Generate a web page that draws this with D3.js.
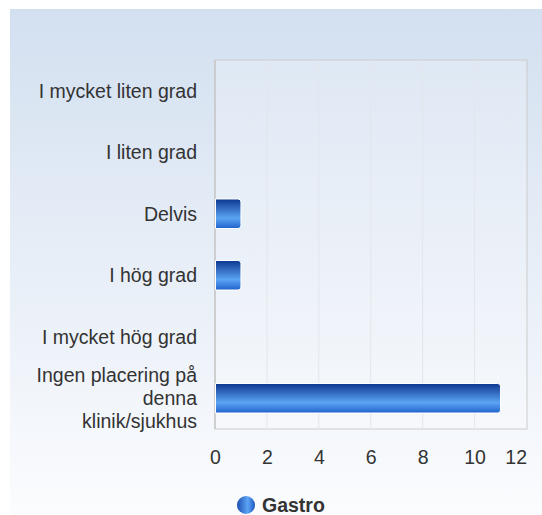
<!DOCTYPE html>
<html>
<head>
<meta charset="utf-8">
<script src="https://cdn.jsdelivr.net/npm/d3@7"></script>
<style>
  body { margin: 0; background: #fff; }
  text { font-family: "Liberation Sans", Arial, sans-serif; }
</style>
</head>
<body>
<div id="chart"></div>
<script>
// data
let categories = [
  ["I mycket liten grad"],
  ["I liten grad"],
  ["Delvis"],
  ["I hög grad"],
  ["I mycket hög grad"],
  ["Ingen placering på", "denna", "klinik/sjukhus"]
];
let values = [0, 0, 1, 1, 0, 11];
let xTicks = [0, 2, 4, 6, 8, 10, 12];
let seriesName = "Gastro";

let svgWidth = 542;
let svgHeight = 515;
let margin = { top: 60, right: 15, bottom: 86, left: 215 };
let chartWidth = svgWidth - margin.left - margin.right;
let chartHeight = svgHeight - margin.top - margin.bottom;
let fontSize = 19.5;

let svg = d3.select("#chart")
  .append("svg")
  .attr("width", svgWidth)
  .attr("height", svgHeight);

let defs = svg.append("defs");

let bg = defs.append("linearGradient")
  .attr("id", "bg").attr("x1", 0).attr("y1", 0).attr("x2", 0).attr("y2", 1);
bg.append("stop").attr("offset", "0%").attr("stop-color", "#d3e0f0");
bg.append("stop").attr("offset", "100%").attr("stop-color", "#fbfcfe");

let barGrad = defs.append("linearGradient")
  .attr("id", "barGrad").attr("x1", 0).attr("y1", 0).attr("x2", 0).attr("y2", 1);
barGrad.append("stop").attr("offset", "0%").attr("stop-color", "#0b3690");
barGrad.append("stop").attr("offset", "65%").attr("stop-color", "#5ca4f4");
barGrad.append("stop").attr("offset", "100%").attr("stop-color", "#1f62cc");

let dotGrad = defs.append("linearGradient")
  .attr("id", "dotGrad").attr("x1", 0).attr("y1", 0).attr("x2", 1).attr("y2", 0);
dotGrad.append("stop").attr("offset", "0%").attr("stop-color", "#1d4fb0");
dotGrad.append("stop").attr("offset", "60%").attr("stop-color", "#5ca4f4");
dotGrad.append("stop").attr("offset", "100%").attr("stop-color", "#1d55c0");

// background
svg.append("rect")
  .attr("x", 10).attr("y", 9)
  .attr("width", svgWidth - 10).attr("height", svgHeight - 9)
  .attr("fill", "url(#bg)");

let chartGroup = svg.append("g")
  .attr("transform", `translate(${margin.left}, ${margin.top})`);

let xScale = d3.scaleLinear().domain([0, 12]).range([0, chartWidth - 0.5]);
let yScale = d3.scaleBand()
  .domain(categories.map((d, i) => i))
  .range([0, chartHeight])
  .paddingInner(0.52).paddingOuter(0.26);

// plot area
chartGroup.append("rect")
  .attr("x", 0).attr("y", 0)
  .attr("width", chartWidth).attr("height", chartHeight)
  .attr("fill", "#ffffff").attr("fill-opacity", 0.2)
  .attr("stroke", "#cccccc").attr("stroke-width", 1);

// grid
chartGroup.selectAll(".grid")
  .data(xTicks.slice(1, -1))
  .enter()
  .append("line")
  .attr("x1", d => xScale(d)).attr("x2", d => xScale(d))
  .attr("y1", 0).attr("y2", chartHeight)
  .attr("stroke", "#e2e6ec").attr("stroke-width", 1);

chartGroup.append("line")
  .attr("x1", 0).attr("x2", 0).attr("y1", 0).attr("y2", chartHeight)
  .attr("stroke", "#c8c8c8").attr("stroke-width", 1.5);

// x axis labels
let xAxis = d3.axisBottom(xScale).tickValues(xTicks).tickSize(0).tickPadding(21);
let xAxisG = chartGroup.append("g")
  .attr("transform", `translate(0, ${chartHeight})`)
  .call(xAxis);
xAxisG.select(".domain").remove();
xAxisG.selectAll("text")
  .attr("font-size", fontSize)
  .attr("fill", "#333")
  .attr("font-family", "Liberation Sans, Arial, sans-serif")
  .attr("text-anchor", d => d === 12 ? "end" : "middle");

// category labels
let catG = chartGroup.selectAll(".cat")
  .data(categories)
  .enter()
  .append("text")
  .attr("class", "cat")
  .attr("text-anchor", "end")
  .attr("font-size", fontSize)
  .attr("fill", "#333")
  .attr("x", -18)
  .attr("y", (d, i) => yScale(i) + yScale.bandwidth() / 2 - (d.length - 1) * 11.5 + 7);
catG.selectAll("tspan")
  .data(d => d)
  .enter()
  .append("tspan")
  .attr("x", -18)
  .attr("dy", (d, i) => i === 0 ? 0 : 23)
  .text(d => d);

// bars
values.forEach(function (v, i) {
  if (v <= 0) return;
  let x0 = xScale(0) + 0.5;
  let x1 = xScale(v);
  let y0 = yScale(i);
  let h = yScale.bandwidth();
  let r = 3;
  let p = `M${x0},${y0} H${x1 - r} Q${x1},${y0} ${x1},${y0 + r} V${y0 + h - r} Q${x1},${y0 + h} ${x1 - r},${y0 + h} H${x0} Z`;
  chartGroup.append("path")
    .attr("class", "bar")
    .attr("d", p)
    .attr("fill", "url(#barGrad)")
    .attr("stroke", "#ffffff")
    .attr("stroke-width", 1);
});

// legend
let legend = svg.append("g").attr("transform", "translate(246, 505)");
legend.append("circle")
  .attr("cx", 0).attr("cy", 0).attr("r", 9)
  .attr("fill", "url(#dotGrad)");
legend.append("text")
  .attr("x", 16).attr("y", 7)
  .attr("font-size", fontSize)
  .attr("font-weight", "bold")
  .attr("fill", "#333")
  .text(seriesName);
</script>
</body>
</html>
